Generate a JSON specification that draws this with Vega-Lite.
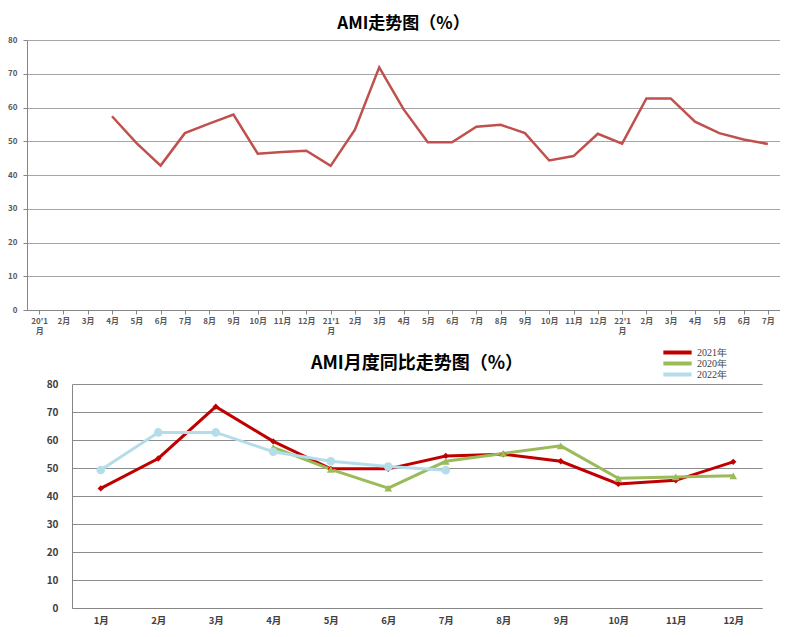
{
  "$schema": "https://vega.github.io/schema/vega-lite/v6.json",
  "padding": {"left": 0, "top": 15, "right": 0, "bottom": 0},
  "config": {
    "view": {"stroke": null},
    "font": "Noto Sans CJK SC"
  },
  "vconcat": [
    {
      "width": 753,
      "height": 270,
      "title": {"text": "AMI走势图（%）", "font": "Noto Sans CJK SC", "fontSize": 17, "fontWeight": "bold", "color": "#000000", "offset": 3},
      "data": {"values": [
        {"month": "2020-04", "ami": 57.4},
        {"month": "2020-05", "ami": 49.5},
        {"month": "2020-06", "ami": 42.8},
        {"month": "2020-07", "ami": 52.4},
        {"month": "2020-08", "ami": 55.2},
        {"month": "2020-09", "ami": 57.9},
        {"month": "2020-10", "ami": 46.3},
        {"month": "2020-11", "ami": 46.8},
        {"month": "2020-12", "ami": 47.2},
        {"month": "2021-01", "ami": 42.7},
        {"month": "2021-02", "ami": 53.4},
        {"month": "2021-03", "ami": 71.9},
        {"month": "2021-04", "ami": 59.5},
        {"month": "2021-05", "ami": 49.7},
        {"month": "2021-06", "ami": 49.7},
        {"month": "2021-07", "ami": 54.3},
        {"month": "2021-08", "ami": 54.9},
        {"month": "2021-09", "ami": 52.4},
        {"month": "2021-10", "ami": 44.3},
        {"month": "2021-11", "ami": 45.6},
        {"month": "2021-12", "ami": 52.2},
        {"month": "2022-01", "ami": 49.3},
        {"month": "2022-02", "ami": 62.7},
        {"month": "2022-03", "ami": 62.7},
        {"month": "2022-04", "ami": 55.8},
        {"month": "2022-05", "ami": 52.4},
        {"month": "2022-06", "ami": 50.5},
        {"month": "2022-07", "ami": 49.2}
      ]},
      "mark": {"type": "line", "color": "#C0504D", "strokeWidth": 2.5},
      "encoding": {
        "x": {
          "field": "month",
          "type": "ordinal",
          "scale": {
            "domain": ["2020-01","2020-02","2020-03","2020-04","2020-05","2020-06","2020-07","2020-08","2020-09","2020-10","2020-11","2020-12",
                       "2021-01","2021-02","2021-03","2021-04","2021-05","2021-06","2021-07","2021-08","2021-09","2021-10","2021-11","2021-12",
                       "2022-01","2022-02","2022-03","2022-04","2022-05","2022-06","2022-07"],
            "paddingInner": 0, "paddingOuter": 0
          },
          "axis": {
            "title": null,
            "labelAngle": 0,
            "labelExpr": "slice(datum.value,5)=='01' ? [slice(datum.value,2,4)+\"'1\", '月'] : toNumber(slice(datum.value,5))+'月'",
            "labelFontSize": 8,
            "labelFontWeight": "bold",
            "labelColor": "#595959",
            "labelPadding": 3,
            "labelLineHeight": 10,
            "tickSize": 4,
            "tickColor": "#868686",
            "domainColor": "#868686",
            "grid": false
          }
        },
        "y": {
          "field": "ami",
          "type": "quantitative",
          "scale": {"domain": [0, 80]},
          "axis": {
            "title": null,
            "values": [0,10,20,30,40,50,60,70,80],
            "grid": true,
            "gridColor": "#A6A6A6",
            "gridWidth": 1.2,
            "domainColor": "#868686",
            "tickColor": "#868686",
            "tickSize": 4,
            "labelFontSize": 8,
            "labelFontWeight": "bold",
            "labelColor": "#595959",
            "labelPadding": 6,
            "minExtent": 27,
            "maxExtent": 27
          }
        }
      }
    },
    {
      "spacing": 0,
      "hconcat": [
        {
          "width": 19,
          "height": 224,
          "data": {"values": []},
          "mark": "point",
          "encoding": {}
        },
        {
          "width": 690,
          "height": 224,
          "title": {"text": "AMI月度同比走势图（%）", "font": "Noto Sans CJK SC", "fontSize": 18, "fontWeight": "bold", "color": "#000000", "offset": 6},
          "data": {"values": [
            {"month": "1月", "year": "2021年", "ami": 42.7},
            {"month": "2月", "year": "2021年", "ami": 53.4},
            {"month": "3月", "year": "2021年", "ami": 71.9},
            {"month": "4月", "year": "2021年", "ami": 59.5},
            {"month": "5月", "year": "2021年", "ami": 49.7},
            {"month": "6月", "year": "2021年", "ami": 49.7},
            {"month": "7月", "year": "2021年", "ami": 54.3},
            {"month": "8月", "year": "2021年", "ami": 54.9},
            {"month": "9月", "year": "2021年", "ami": 52.4},
            {"month": "10月", "year": "2021年", "ami": 44.3},
            {"month": "11月", "year": "2021年", "ami": 45.6},
            {"month": "12月", "year": "2021年", "ami": 52.2},
            {"month": "4月", "year": "2020年", "ami": 57.4},
            {"month": "5月", "year": "2020年", "ami": 49.5},
            {"month": "6月", "year": "2020年", "ami": 42.8},
            {"month": "7月", "year": "2020年", "ami": 52.4},
            {"month": "8月", "year": "2020年", "ami": 55.2},
            {"month": "9月", "year": "2020年", "ami": 57.9},
            {"month": "10月", "year": "2020年", "ami": 46.3},
            {"month": "11月", "year": "2020年", "ami": 46.8},
            {"month": "12月", "year": "2020年", "ami": 47.2},
            {"month": "1月", "year": "2022年", "ami": 49.3},
            {"month": "2月", "year": "2022年", "ami": 62.7},
            {"month": "3月", "year": "2022年", "ami": 62.7},
            {"month": "4月", "year": "2022年", "ami": 55.8},
            {"month": "5月", "year": "2022年", "ami": 52.4},
            {"month": "6月", "year": "2022年", "ami": 50.5},
            {"month": "7月", "year": "2022年", "ami": 49.2}
          ]},
          "encoding": {
            "x": {
              "field": "month",
              "type": "ordinal",
              "scale": {
                "domain": ["1月","2月","3月","4月","5月","6月","7月","8月","9月","10月","11月","12月"],
                "paddingInner": 0, "paddingOuter": 0
              },
              "axis": {
                "title": null,
                "labelAngle": 0,
                "labelFontSize": 9.5,
                "labelFontWeight": "bold",
                "labelColor": "#404040",
                "labelPadding": 7,
                "ticks": false,
                "domainColor": "#868686",
                "grid": false
              }
            },
            "y": {
              "field": "ami",
              "type": "quantitative",
              "scale": {"domain": [0, 80]},
              "axis": {
                "title": null,
                "values": [0,10,20,30,40,50,60,70,80],
                "grid": true,
                "gridColor": "#8C8C8C",
                "gridWidth": 1.2,
                "domainColor": "#868686",
                "ticks": false,
                "labelFontSize": 10,
                "labelFontWeight": "bold",
                "labelColor": "#404040",
                "labelPadding": 14,
                "minExtent": 26,
                "maxExtent": 26
              }
            }
          },
          "layer": [
            {
              "mark": {"type": "line", "strokeWidth": 3},
              "encoding": {
                "color": {
                  "field": "year",
                  "type": "nominal",
                  "scale": {"domain": ["2021年","2020年","2022年"], "range": ["#C00000","#9BBB59","#B4DDE9"]},
                  "legend": {
                    "title": null,
                    "orient": "none",
                    "legendX": 634,
                    "legendY": 308,
                    "symbolType": "stroke",
                    "symbolStrokeWidth": 4,
                    "symbolSize": 800,
                    "clipHeight": 9,
                    "labelFont": "Liberation Serif",
                    "labelFontSize": 10,
                    "labelColor": "#404040",
                    "labelOffset": 3,
                    "rowPadding": 0
                  }
                }
              }
            },
            {
              "transform": [{"filter": "datum.year == '2021年'"}],
              "mark": {"type": "point", "filled": true, "opacity": 1, "shape": "diamond", "size": 40, "color": "#C00000"}
            },
            {
              "transform": [{"filter": "datum.year == '2020年'"}],
              "mark": {"type": "point", "filled": true, "opacity": 1, "shape": "triangle-up", "size": 60, "color": "#9BBB59"}
            },
            {
              "transform": [{"filter": "datum.year == '2022年'"}],
              "mark": {"type": "point", "filled": true, "opacity": 1, "shape": "circle", "size": 75, "color": "#B4DDE9"}
            }
          ]
        }
      ]
    }
  ],
  "spacing": 20
}
